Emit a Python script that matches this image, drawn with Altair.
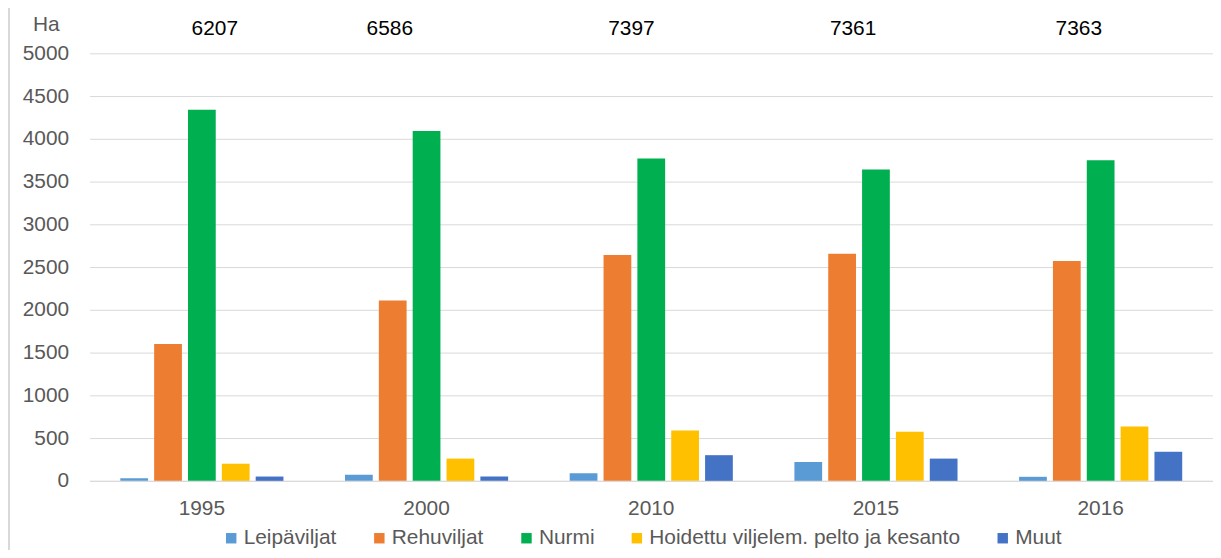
import altair as alt
import pandas as pd

years = ["1995", "2000", "2010", "2015", "2016"]
categories = ["Leipäviljat", "Rehuviljat", "Nurmi",
              "Hoidettu viljelem. pelto ja kesanto", "Muut"]
leipaviljat = [30, 70, 90, 220, 47]
rehuviljat = [1600, 2110, 2640, 2655, 2570]
nurmi = [4340, 4090, 3770, 3640, 3750]
hoidettu = [200, 260, 590, 575, 635]
muut = [50, 50, 300, 260, 340]
totals = [6207, 6586, 7397, 7361, 7363]
colors = ["#5B9BD5", "#ED7D31", "#00B050", "#FFC000", "#4472C4"]

# horizontal nudges of the total labels (style, as placed in the original)
total_dx = [13, -37, -20, -23, -22]

series = [leipaviljat, rehuviljat, nurmi, hoidettu, muut]
rows = []
for cat, vals in zip(categories, series):
    for y, v in zip(years, vals):
        rows.append({"year": y, "cat": cat, "value": v})
df = pd.DataFrame(rows)

FONT = "Liberation Sans"
GRAY = "#595959"

xenc = alt.X("year:N", sort=years,
             scale=alt.Scale(paddingInner=0.274, paddingOuter=0.137),
             axis=alt.Axis(title=None, labelAngle=0, ticks=False,
                           domainColor="#d9d9d9", labelFontSize=21,
                           labelColor=GRAY, labelFont=FONT, labelPadding=17))

bars = alt.Chart(df).mark_bar().encode(
    x=xenc,
    xOffset=alt.XOffset("cat:N", sort=categories,
                        scale=alt.Scale(paddingInner=0.18, paddingOuter=0)),
    y=alt.Y("value:Q", scale=alt.Scale(domain=[0, 5000]),
            axis=alt.Axis(values=list(range(0, 5001, 500)), format="d",
                          ticks=False, domain=False, gridColor="#d9d9d9",
                          labelFontSize=21, labelColor=GRAY, labelFont=FONT,
                          labelPadding=21,
                          title="Ha", titleAngle=0, titleX=-44, titleY=-29,
                          titleAlign="center", titleBaseline="middle",
                          titleFontSize=21, titleFontWeight="normal",
                          titleColor=GRAY, titleFont=FONT)),
    color=alt.Color("cat:N", scale=alt.Scale(domain=categories, range=colors),
                    legend=alt.Legend(title=None, orient="none",
                                      direction="horizontal",
                                      legendX=132, legendY=477,
                                      symbolType="square", symbolSize=110,
                                      symbolStrokeWidth=0,
                                      labelFontSize=21, labelColor=GRAY,
                                      labelFont=FONT, columnPadding=32,
                                      labelOffset=2, labelLimit=500,
                                      padding=0)),
)

layers = [bars]
for yr, t, dx in zip(years, totals, total_dx):
    tdf = pd.DataFrame({"year": [yr], "total": [t]})
    layers.append(
        alt.Chart(tdf).mark_text(fontSize=21, font=FONT, color="black",
                                 baseline="middle", dx=dx).encode(
            x=alt.X("year:N", sort=years),
            y=alt.value(-24),
            text=alt.Text("total:Q", format="d"),
        )
    )

border = alt.Chart(pd.DataFrame({"a": [0]})).mark_rule(
    color="#d9d9d9", strokeWidth=2).encode(
    x=alt.value(-81), y=alt.value(-60), y2=alt.value(520))
layers.append(border)

chart = alt.layer(*layers).properties(
    width=1130, height=430,
    autosize=alt.AutoSizeParams(type="none"),
    padding={"left": 82, "top": 44, "right": 0, "bottom": 68},
).configure_view(stroke=None)

chart.save("out.html", embed_options={"renderer": "svg", "actions": False})
